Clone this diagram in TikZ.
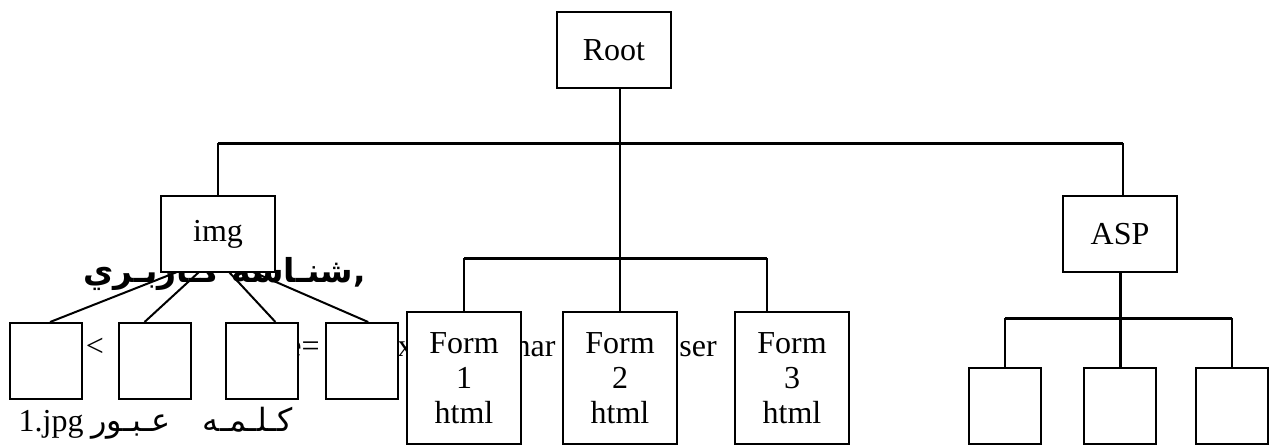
\documentclass[tikz,border=0pt]{standalone}
\usepackage{fontspec}
\setmainfont{Liberation Serif}
\newfontfamily\arabicfont[Script=Arabic]{DejaVu Sans}
\TeXXeTstate=1
\usetikzlibrary{positioning}

\tikzset{
  box/.style={draw, line width=1pt, fill=white, minimum width=57pt, minimum height=38pt, inner sep=0pt, align=center},
  leaf/.style={box, minimum width=36pt},
  form/.style={box, minimum height=66pt},
  link/.style={line width=1pt},
  bar/.style={line width=1.5pt},
  frag/.style={inner sep=0pt}
}

\begin{document}
\begin{tikzpicture}[x=0.5pt, y=-0.5pt, font=\fontsize{16}{17.5}\selectfont]
  \useasboundingbox (0,0) rectangle (1269,446);

  \node[frag, anchor=base] (lt) at (95,356) {<};
  \node[frag, anchor=base east] (eq) at (320,356) {e=};
  \node[frag, anchor=base west] (ex) at (397,356) {x};
  \node[frag, anchor=base east] (har) at (556,356) {har};
  \node[frag, anchor=base west] (ser) at (679,356) {ser};
  \node[frag, anchor=base west] (uid) at (83,282) {\arabicfont\bfseries\fontsize{16.5}{18}\selectfont\beginR شنـاسه کـاربـري\endR,};
  \node[frag, anchor=base east] (jpg) at (84,431) {1.jpg};
  \node[frag, anchor=base west] (pwd) at (91,431) {\arabicfont\fontsize{16}{18}\selectfont\beginR کـلـمـه\quad عـبـور\endR};

  \coordinate (bL) at (218,143);
  \coordinate (bR) at (1123,143);
  \coordinate (m2) at (618,258);
  \coordinate (d3) at (767,311);
  \coordinate (m3) at (1120,318);
  \coordinate (i1) at (177,272);
  \coordinate (i2) at (199,272);
  \coordinate (i3) at (229,272);
  \coordinate (i4) at (253,272);

  \node[box] (root) at (614,50) {Root};
  \node[box] (img) at (218,234) {img};
  \node[box] (asp) at (1120,234) {ASP};

  \node[leaf] (s1) at (46,361) {};
  \node[leaf, right=17.5pt of s1] (s2) {};
  \node[leaf, right=16.5pt of s2] (s3) {};
  \node[leaf, right=13pt of s3] (s4) {};

  \node[form] (f1) at (464,378) {Form\\1\\html};
  \node[form, right=20pt of f1] (f2) {Form\\2\\html};
  \node[form, right=28pt of f2] (f3) {Form\\3\\html};

  \node[leaf] (a2) at (1120,406) {};
  \node[leaf, left=20.5pt of a2] (a1) {};
  \node[leaf, right=19pt of a2] (a3) {};

  \draw[link] (f2.north) -- (f2.north |- root.south);
  \draw[bar] (bL) -- (bR);
  \draw[link] (img.north) -- (bL);
  \draw[link] (asp.north -| bR) -- (bR);
  \draw[bar] (f1.north |- m2) -- (d3 |- m2);
  \draw[link] (f1.north) -- (f1.north |- m2);
  \draw[link] (d3) -- (d3 |- m2);
  \draw[bar] (asp.south) -- (a2.north);
  \draw[bar] (a1.north |- m3) -- (a3.north |- m3);
  \draw[link] (a1.north) -- (a1.north |- m3);
  \draw[link] (a3.north) -- (a3.north |- m3);
  \draw[link] (s1.84) -- (i1);
  \draw[link] (s2.105) -- (i2);
  \draw[link] (s3.71) -- (i3);
  \draw[link] (s4.81) -- (i4);
\end{tikzpicture}
\end{document}
